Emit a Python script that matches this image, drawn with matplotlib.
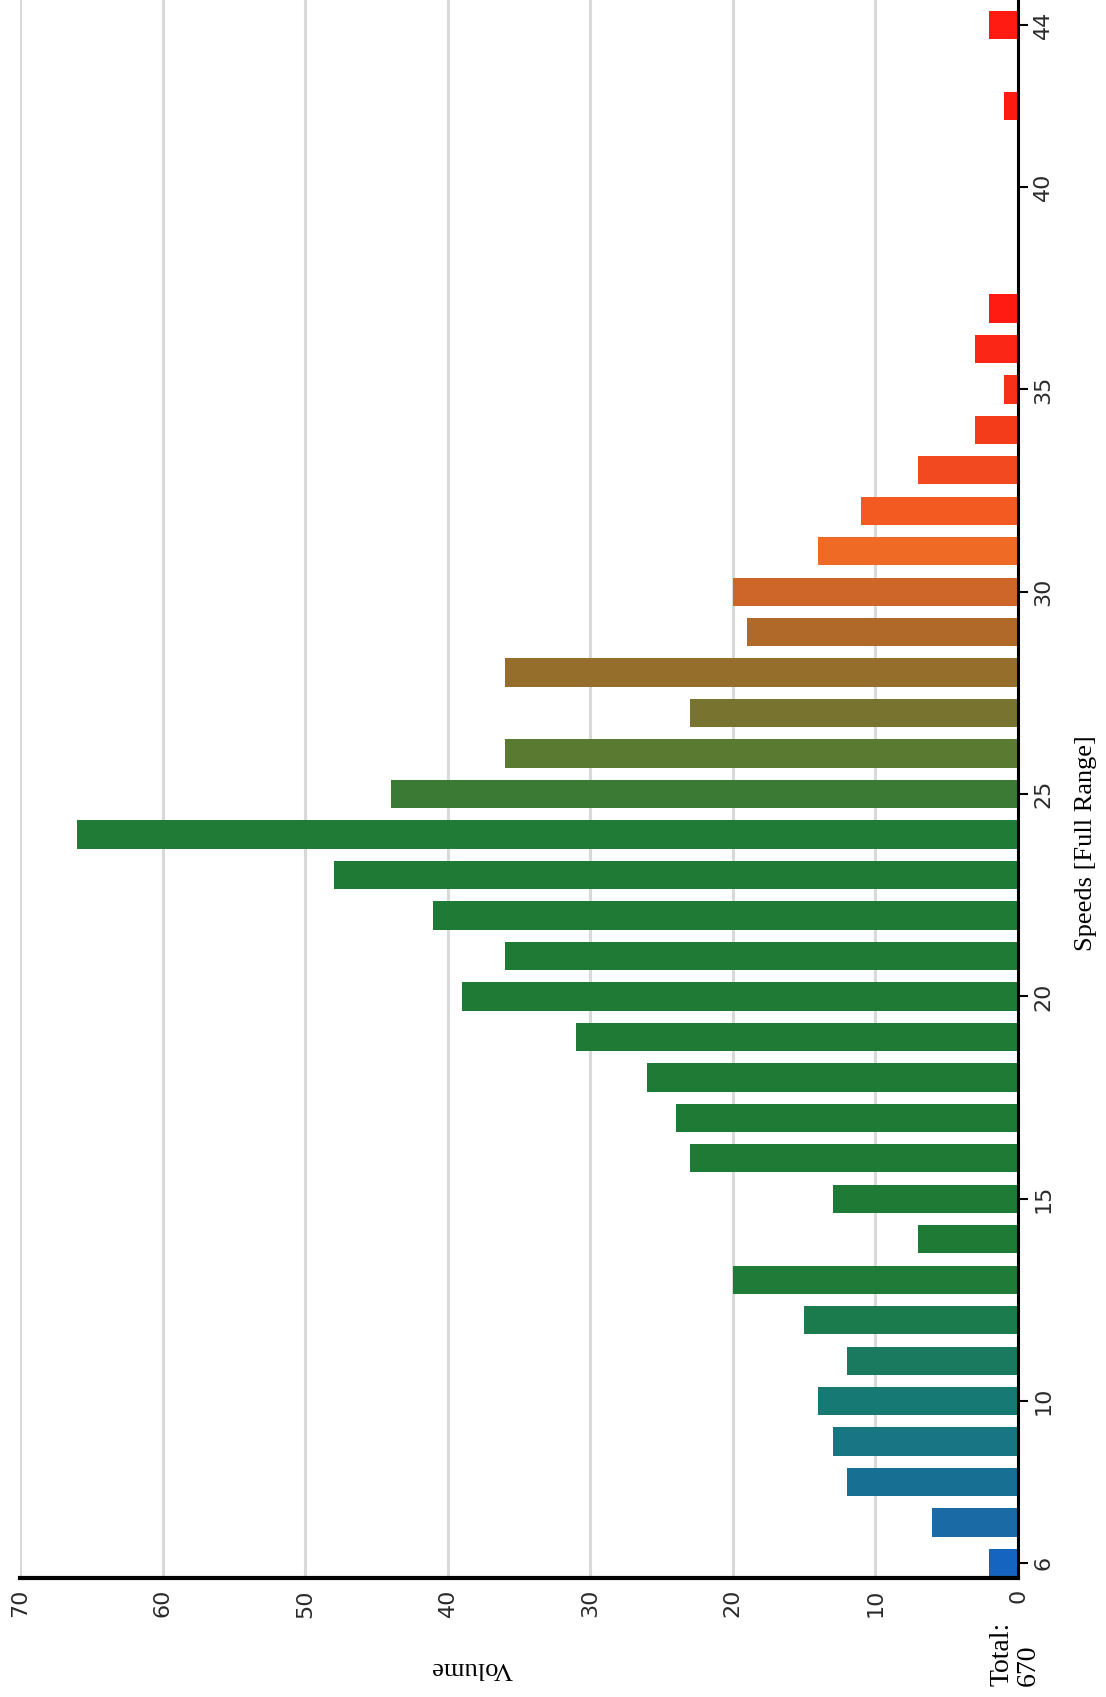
import matplotlib
matplotlib.use("Agg")
import matplotlib.pyplot as plt

# speeds 6..44 and the count of vehicles at each speed
speeds = list(range(6, 45))
volumes = [2, 6, 12, 13, 14, 12, 15, 20, 7, 13,
           23, 24, 26, 31, 39, 36, 41, 48, 66, 44,
           36, 23, 36, 19, 20, 14, 11, 7, 3, 1,
           3, 2, 0, 0, 0, 0, 1, 0, 2]
bar_colors = ["#1565c0", "#1a6aa6", "#186f94", "#177682", "#177a72", "#197a60",
              "#1b7b4c", "#1e7b38", "#1e7b36", "#1e7b35", "#1e7b35", "#1e7b35",
              "#1e7b35", "#1e7b35", "#1e7b35", "#1e7b35", "#1e7b35", "#1e7b35",
              "#1f7b35", "#3a7a34", "#5b7a31", "#78732f", "#966e2c", "#b1692a",
              "#cd6628", "#ee6a25", "#f25a22", "#f24a1e", "#f43c1b", "#f8301a",
              "#fb2616", "#ff1a12", "#ff1a12", "#ff1a12", "#ff1a12", "#ff1a12",
              "#ff1a12", "#ff1a12", "#ff1a12"]
speed_ticks = [6, 10, 15, 20, 25, 30, 35, 40, 44]
volume_ticks = [0, 10, 20, 30, 40, 50, 60, 70]
total = sum(volumes)

W, H = 1106, 1697
fig = plt.figure(figsize=(W / 100, H / 100), dpi=100)
ax = fig.add_axes([20 / W, 119 / H, (1018 - 20) / W, (H - 119) / H])

ax.barh(speeds, volumes, height=0.7, color=bar_colors, zorder=2)

ax.set_xlim(70, 0)
ax.set_ylim(5.63, 44.62)

# grid
ax.set_xticks(volume_ticks)
ax.grid(axis="x", color="#d9d9d9", linewidth=2.2, zorder=0)
ax.set_axisbelow(True)

# spines
for s in ["left", "top"]:
    ax.spines[s].set_visible(False)
ax.spines["right"].set_linewidth(2.2)
ax.spines["bottom"].set_linewidth(3)

# speed axis (right)
ax.yaxis.tick_right()
ax.set_yticks(speed_ticks)
ax.set_yticklabels([str(s) for s in speed_ticks], rotation=90, va="center",
                   fontsize=16, color="#2a2a2a", family="DejaVu Sans")
ax.tick_params(axis="y", length=7, width=1.5, pad=4)

# volume axis (bottom)
ax.set_xticklabels([str(v) for v in volume_ticks], rotation=90,
                   fontsize=16, color="#2a2a2a", family="DejaVu Sans")
ax.tick_params(axis="x", length=0, pad=8)

fig.text(1086 / W, 1 - 843 / H, "Speeds [Full Range]", rotation=90,
         ha="center", va="center", fontsize=19, family="Liberation Serif")
fig.text(472 / W, 1 - 1668 / H, "Volume", rotation=180,
         ha="center", va="center", fontsize=19, family="Liberation Serif")
fig.text(1015 / W, 1 - 1686 / H, "Total:\n" + str(total), rotation=90,
         ha="center", va="bottom", multialignment="left",
         fontsize=20, family="Liberation Serif", linespacing=1.1)

fig.savefig("out.png", dpi=100)
